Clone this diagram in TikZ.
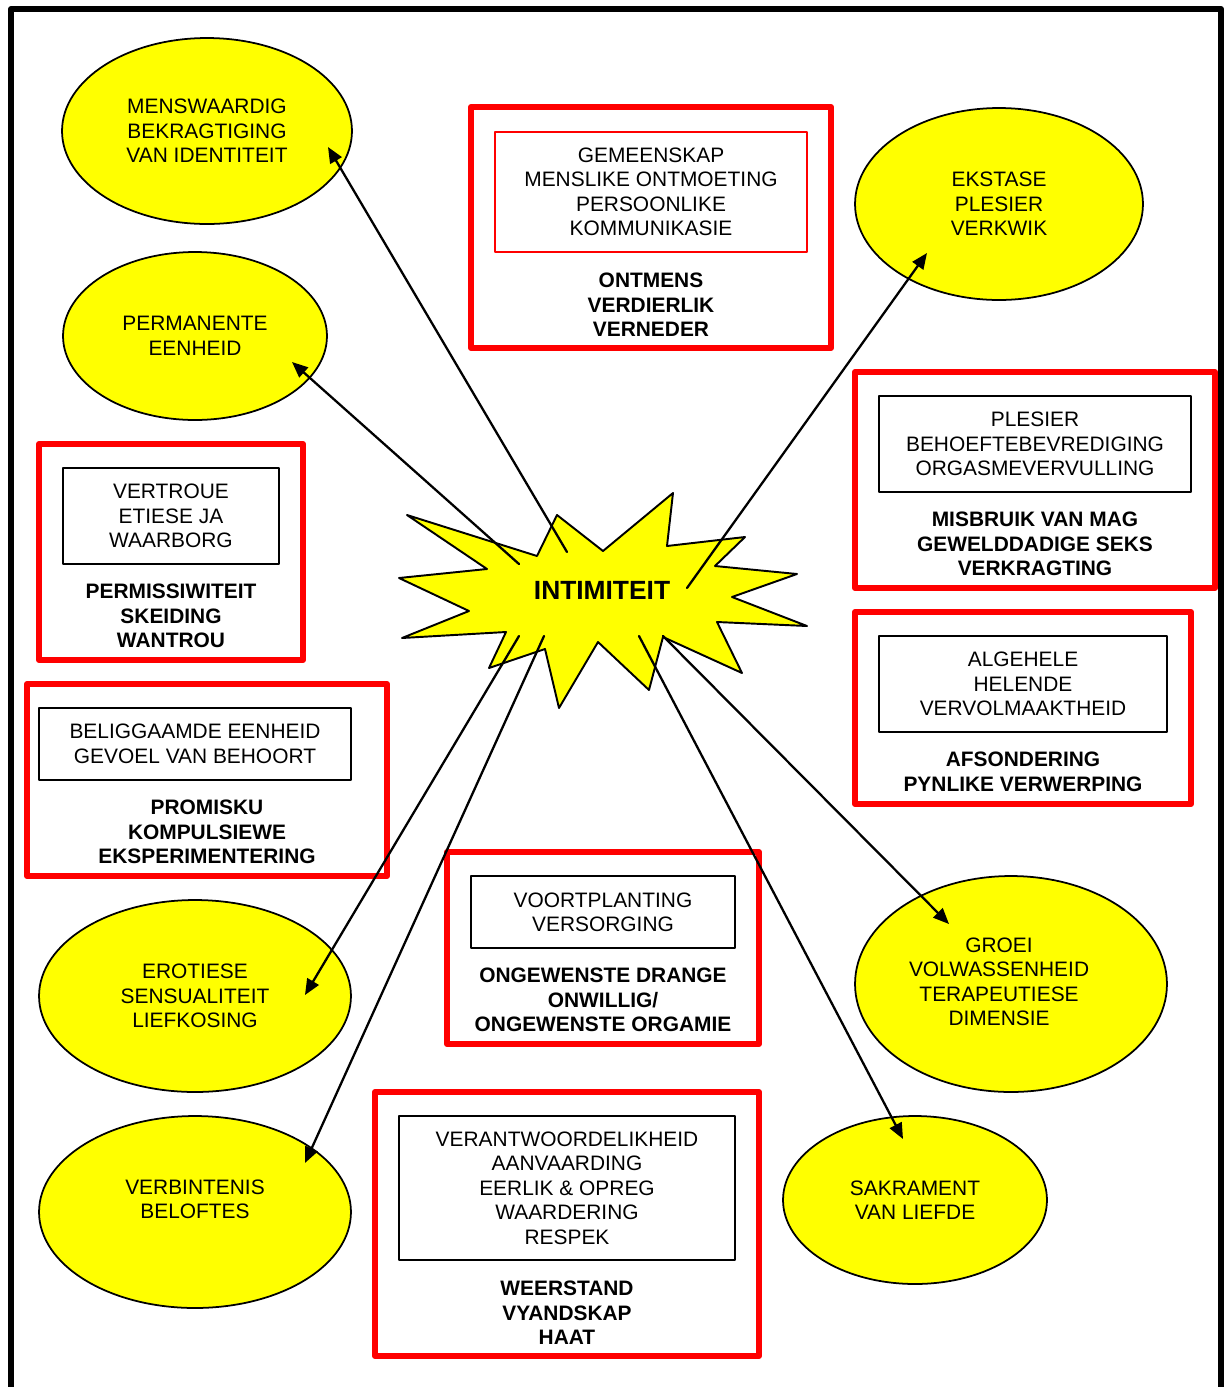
\documentclass[tikz,border=0pt]{standalone}
\usepackage{fontspec}
\setmainfont{Liberation Sans}
\usetikzlibrary{arrows.meta,shapes.geometric}
\definecolor{ffffqq}{rgb}{1,1,0}
\definecolor{ffqqqq}{rgb}{1,0,0}
\tikzset{
	blob/.style={ellipse,draw=black,line width=1pt,fill=ffffqq,inner sep=0pt,align=center,font=\fontsize{11.9}{13.9}\selectfont},
	innerbox/.style={draw=black,line width=0.8pt,inner sep=0pt,align=center,font=\fontsize{11.9}{13.9}\selectfont},
	boldtext/.style={align=center,font=\fontsize{11.9}{13.9}\selectfont\bfseries},
	redbox/.style={draw=ffqqqq,line width=3.4pt}
}

\begin{document}
\begin{tikzpicture}[line cap=round,line join=round,>={Triangle[length=9pt,width=7.5pt]},x=0.02cm,y=-0.02cm]
	\useasboundingbox (0,0) rectangle (1225,1387);
	\draw [line width=3.4pt,line cap=butt] (11,1387)-- (11,9)-- (1221,9)-- (1221,1387);
	% ovale
	\node[blob,minimum width=5.8cm,minimum height=3.72cm] (menswaardig) at (207,131) {MENSWAARDIG\\BEKRAGTIGING\\VAN IDENTITEIT};
	\node[blob,minimum width=5.28cm,minimum height=3.36cm] (permanente) at (195,336) {PERMANENTE\\EENHEID};
	\node[blob,minimum width=5.76cm,minimum height=3.84cm] (ekstase) at (999,204) {EKSTASE\\PLESIER\\VERKWIK};
	\node[blob,minimum width=6.24cm,minimum height=3.84cm] (erotiese) at (195,996) {EROTIESE\\SENSUALITEIT\\LIEFKOSING};
	\node[blob,minimum width=6.24cm,minimum height=3.84cm] (verbintenis) at (195,1212) {VERBINTENIS\\BELOFTES\\[1pt]};
	\node[blob,minimum width=6.24cm,minimum height=4.32cm] (groei) at (1011,984) {\begin{tabular}{@{}c@{\hspace{13.6pt}}}GROEI\\VOLWASSENHEID\\TERAPEUTIESE\\DIMENSIE\end{tabular}};
	\node[blob,minimum width=5.28cm,minimum height=3.36cm] (sakrament) at (915,1200) {SAKRAMENT\\VAN LIEFDE};
	% rooi blokke
	\draw [redbox] (471,107) rectangle (831,348);
		\node[innerbox,draw=ffqqqq,minimum width=6.24cm,minimum height=2.4cm] (gemeenskap) at (651,192) {GEMEENSKAP\\MENSLIKE ONTMOETING\\PERSOONLIKE\\KOMMUNIKASIE};
		\node[boldtext] (ontmens) at (651,305) {ONTMENS\\VERDIERLIK\\VERNEDER};
	\draw [redbox] (855,372) rectangle (1215,588);
		\node[innerbox,minimum width=6.24cm,minimum height=1.92cm] (plesier) at (1035,444) {PLESIER\\BEHOEFTEBEVREDIGING\\ORGASMEVERVULLING};
		\node[boldtext] (misbruik) at (1035,544) {MISBRUIK VAN MAG\\GEWELDDADIGE SEKS\\VERKRAGTING};
	\draw [redbox] (39,444) rectangle (303,660);
		\node[innerbox,minimum width=4.32cm,minimum height=1.92cm] (vertroue) at (171,516) {VERTROUE\\ETIESE JA\\WAARBORG};
		\node[boldtext] (permissiwiteit) at (171,616) {PERMISSIWITEIT\\SKEIDING\\WANTROU};
	\draw [redbox] (855,612) rectangle (1191,804);
		\node[innerbox,minimum width=5.76cm,minimum height=1.92cm] (algehele) at (1023,684) {ALGEHELE\\HELENDE\\VERVOLMAAKTHEID};
		\node[boldtext] (afsondering) at (1023,772) {AFSONDERING\\PYNLIKE VERWERPING};
	\draw [redbox] (27,684) rectangle (387,876);
		\node[innerbox,minimum width=6.24cm,minimum height=1.44cm] (beliggaamde) at (195,744) {BELIGGAAMDE EENHEID\\GEVOEL VAN BEHOORT};
		\node[boldtext] (promisku) at (207,832) {PROMISKU\\KOMPULSIEWE\\EKSPERIMENTERING};
	\draw [redbox] (447,852) rectangle (759,1044);
		\node[innerbox,minimum width=5.28cm,minimum height=1.44cm] (voortplanting) at (603,912) {VOORTPLANTING\\VERSORGING};
		\node[boldtext] (ongewenste) at (603,1000) {ONGEWENSTE DRANGE\\ONWILLIG/\\ONGEWENSTE ORGAMIE};
	\draw [redbox] (375,1092) rectangle (759,1356);
		\node[innerbox,minimum width=6.72cm,minimum height=2.88cm] (verantwoordelikheid) at (567,1188) {VERANTWOORDELIKHEID\\AANVAARDING\\EERLIK \& OPREG\\WAARDERING\\RESPEK};
		\node[boldtext] (weerstand) at (567,1313) {WEERSTAND\\VYANDSKAP\\HAAT};
	% ster
	\filldraw [line width=1.1pt,fill=ffffqq] (407,515)-- (537,556)-- (557,515)-- (603,551)-- (673,493)-- (667,546)-- (745,537)-- (715,566)-- (797,574)-- (732,597)-- (807,626)-- (717,622)-- (742,673)-- (663,637)-- (649,690)-- (598,642)-- (559,708)-- (545,649)-- (489,668)-- (506,632)-- (402,638)-- (469,611)-- (399,578)-- (487,569)-- cycle;
	\node[font=\fontsize{15}{17}\selectfont\bfseries] (intimiteit) at (602,590) {INTIMITEIT};
	\coordinate (s1) at (567,552);
	\coordinate (s2) at (519,564);
	\coordinate (s3) at (687,588);
	\coordinate (s4) at (519,636);
	\coordinate (s5) at (544,636);
	\coordinate (s6) at (639,636);
	\coordinate (s7) at (663,636);
	\coordinate (t1) at (328,147);
	\coordinate (t2) at (292,362);
	\coordinate (t3) at (927,253);
	\coordinate (t4) at (305,995);
	\coordinate (t5) at (305,1163);
	\coordinate (t6) at (903,1139);
	\coordinate (t7) at (949,924);
	\draw [->,line width=1.3pt] (s1)-- (t1);
	\draw [->,line width=1.3pt] (s2)-- (t2);
	\draw [->,line width=1.3pt] (s3)-- (t3);
	\draw [->,line width=1.3pt] (s4)-- (t4);
	\draw [->,line width=1.3pt] (s5)-- (t5);
	\draw [->,line width=1.3pt] (s6)-- (t6);
	\draw [->,line width=1.3pt] (s7)-- (t7);
\end{tikzpicture}
\end{document}
